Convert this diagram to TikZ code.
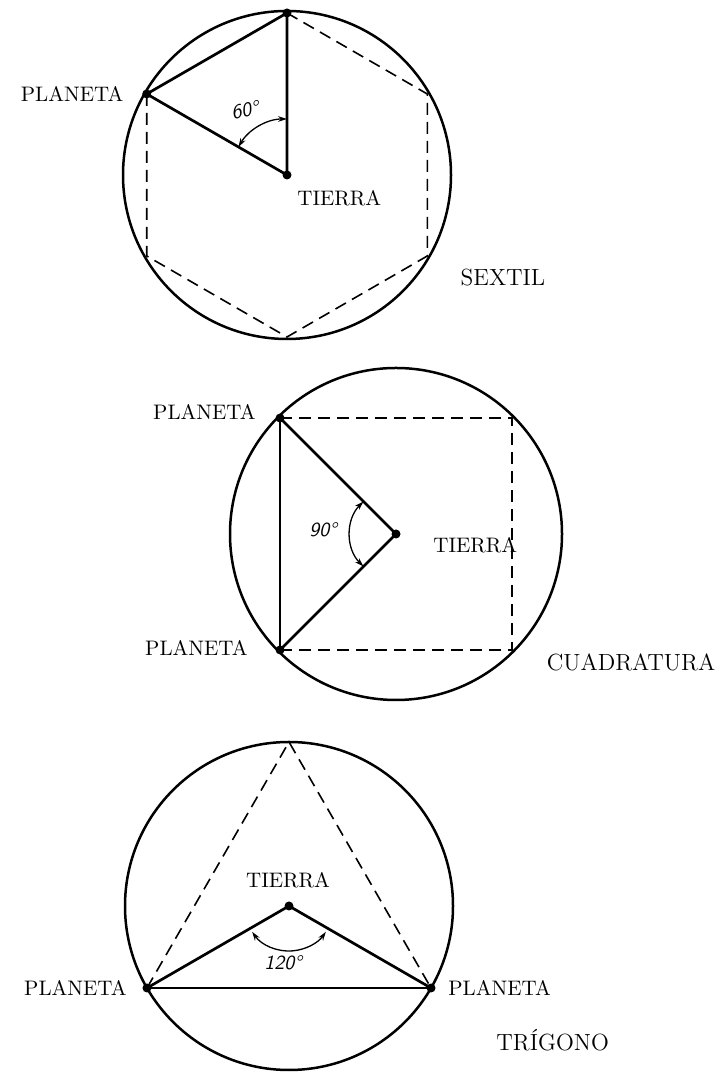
\documentclass[tikz,border=0pt]{standalone}
\usetikzlibrary{arrows.meta,calc}
\begin{document}
\begin{tikzpicture}[x=0.5pt,y=0.5pt,
  orb/.style={line width=1.25pt},
  seg/.style={line width=1.35pt},
  dsh/.style={line width=0.8pt, dash pattern=on 6pt off 3.5pt},
  ang/.style={line width=0.65pt, {Stealth[length=4.5pt,width=2.8pt]}-{Stealth[length=4.5pt,width=2.8pt]}},
  lbl/.style={font=\fontsize{10.5}{12}\selectfont, inner sep=0pt},
  ttl/.style={font=\fontsize{11.7}{14}\selectfont, inner sep=0pt},
  deg/.style={font=\sffamily\slshape\fontsize{10}{12}\selectfont, inner sep=0pt},
  dot/.style={circle, fill, inner sep=0pt, minimum size=4.5pt}]
\useasboundingbox (0,0) rectangle (720,1074);

% ---------- SEXTIL ----------
\coordinate (C1) at (287,899);
\node[dot] (T1) at (C1) {};
\node[dot] (A1) at ($(C1)+(90:162)$) {};
\node[dot] (P1) at ($(C1)+(150:162)$) {};
\coordinate (h210) at ($(C1)+(210:162)$);
\coordinate (h270) at ($(C1)+(270:162)$);
\coordinate (h330) at ($(C1)+(330:162)$);
\coordinate (h30)  at ($(C1)+(30:162)$);
\draw[orb] (C1) circle[radius=82pt];
\draw[dsh] (P1.center) -- (h210) -- (h270) -- (h330) -- (h30) -- (A1.center);
\draw[seg] (A1.center) -- (P1.center) -- (T1.center) -- cycle;
\draw[ang] ($(C1)+(90:56)$) arc[start angle=90, end angle=150, radius=28pt];
\node[deg, rotate=12] (g60) at (245,964) {60°};
\node[lbl, anchor=east] (lp1) at ($(P1)+(-23,0)$) {PLANETA};
\node[lbl, anchor=north west] (lt1) at (297,884) {TIERRA};
\node[ttl] (sextil) at (503,796) {SEXTIL};

% ---------- CUADRATURA ----------
\coordinate (C2) at (396,540);
\node[dot] (T2) at (C2) {};
\node[dot] (P2a) at ($(C2)+(135:164)$) {};
\node[dot] (P2b) at ($(C2)+(225:164)$) {};
\coordinate (q45)  at ($(C2)+(45:164)$);
\coordinate (q315) at ($(C2)+(315:164)$);
\draw[orb] (C2) circle[radius=83pt];
\draw[dsh] (P2a.center) -- (q45) -- (q315) -- (P2b.center);
\draw[seg] (P2a.center) -- (P2b.center);
\draw[seg] (P2a.center) -- (T2.center) -- (P2b.center);
\draw[ang] ($(C2)+(135:46)$) arc[start angle=135, end angle=225, radius=23pt];
\node[deg] (g90) at (323,544) {90°};
\node[lbl, anchor=east] (lp2a) at (256,662) {PLANETA};
\node[lbl, anchor=east] (lp2b) at (248,426) {PLANETA};
\node[lbl, anchor=west] (lt2) at (433,529) {TIERRA};
\node[ttl] (cuad) at (631,412) {CUADRATURA};

% ---------- TRIGONO ----------
\coordinate (C3) at (289,168);
\node[dot] (T3) at (C3) {};
\node[dot] (P3a) at ($(C3)+(210:164)$) {};
\node[dot] (P3b) at ($(C3)+(330:164)$) {};
\coordinate (q90) at ($(C3)+(90:164)$);
\draw[orb] (C3) circle[radius=82pt];
\draw[dsh] (P3a.center) -- (q90) -- (P3b.center);
\draw[seg] (P3a.center) -- (P3b.center);
\draw[seg] (P3a.center) -- (T3.center) -- (P3b.center);
\draw[ang] ($(C3)+(215:45)$) arc[start angle=215, end angle=325, radius=22.5pt];
\node[deg] (g120) at (283,111) {120°};
\node[lbl] (lt3) at (288,194) {TIERRA};
\node[lbl, anchor=east] (lp3a) at (127,86) {PLANETA};
\node[lbl, anchor=west] (lp3b) at (448,86) {PLANETA};
\node[ttl, anchor=west] (trig) at (496,34) {TRÍGONO};
\end{tikzpicture}
\end{document}
